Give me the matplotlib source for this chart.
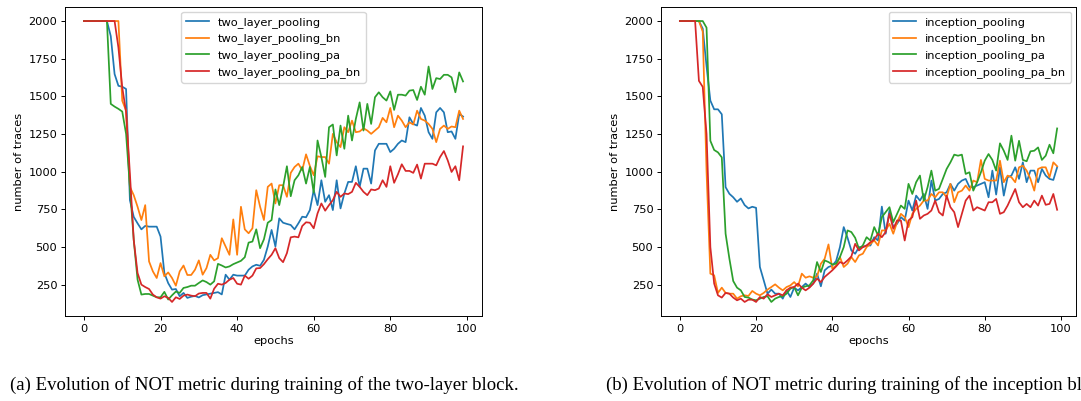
import matplotlib
matplotlib.use("Agg")
import matplotlib.pyplot as plt
import numpy as np

epochs = list(range(100))

two_layer_pooling = [
    2000, 2000, 2000, 2000, 2000, 2000, 2000, 1900, 1648, 1570,
    1564, 1549, 811, 700, 657, 617, 640, 635, 635, 635,
    569, 327, 260, 217, 221, 173, 195, 162, 170, 175,
    165, 180, 185, 190, 195, 200, 185, 316, 283, 316,
    310, 310, 310, 349, 371, 382, 375, 415, 503, 613,
    503, 690, 661, 653, 646, 617, 657, 701, 697, 745,
    877, 778, 943, 800, 844, 745, 943, 756, 855, 932,
    932, 1036, 899, 1020, 1020, 921, 1141, 1185, 1185, 1185,
    1130, 1152, 1185, 1207, 1196, 1361, 1317, 1306, 1423, 1372,
    1262, 1218, 1394, 1423, 1394, 1262, 1267, 1218, 1383, 1366,
]
two_layer_pooling_bn = [
    2000, 2000, 2000, 2000, 2000, 2000, 2000, 2000, 2000, 2000,
    1471, 1405, 899, 844, 767, 679, 778, 404, 338, 294,
    393, 305, 331, 294, 243, 338, 377, 314, 314, 349,
    411, 316, 360, 448, 411, 426, 558, 503, 448, 683,
    448, 767, 617, 591, 624, 877, 767, 679, 899, 921,
    789, 910, 910, 833, 992, 1031, 1053, 1009, 1115, 1038,
    976, 1102, 1097, 1097, 1053, 1251, 1196, 1163, 1295, 1262,
    1339, 1262, 1267, 1288, 1273, 1251, 1273, 1295, 1357, 1328,
    1423, 1295, 1372, 1339, 1295, 1328, 1313, 1405, 1350, 1339,
    1317, 1284, 1196, 1284, 1306, 1284, 1300, 1295, 1405, 1350,
]
two_layer_pooling_pa = [
    2000, 2000, 2000, 2000, 2000, 2000, 2000, 1450, 1432, 1417,
    1399, 1251, 899, 547, 283, 184, 188, 188, 177, 166,
    166, 202, 151, 179, 204, 195, 228, 234, 243, 243,
    261, 278, 267, 250, 272, 388, 377, 364, 371, 386,
    397, 408, 432, 529, 536, 617, 492, 551, 661, 679,
    882, 778, 899, 1036, 837, 943, 976, 1031, 921, 1031,
    860, 1207, 1097, 965, 1295, 1313, 1108, 1306, 1152, 1372,
    1207, 1350, 1460, 1273, 1450, 1317, 1494, 1527, 1494, 1472,
    1533, 1410, 1511, 1511, 1505, 1538, 1542, 1476, 1564, 1511,
    1698, 1549, 1621, 1615, 1643, 1643, 1626, 1527, 1659, 1599,
]
two_layer_pooling_pa_bn = [
    2000, 2000, 2000, 2000, 2000, 2000, 2000, 2000, 2000, 1824,
    1560, 1395, 987, 547, 327, 250, 234, 221, 184, 166,
    157, 173, 162, 135, 166, 155, 177, 184, 177, 173,
    191, 195, 195, 157, 223, 256, 250, 261, 283, 294,
    256, 250, 310, 289, 310, 358, 360, 386, 419, 448,
    492, 426, 399, 459, 564, 569, 564, 639, 664, 661,
    624, 723, 789, 741, 778, 811, 866, 833, 855, 851,
    866, 926, 899, 866, 844, 882, 877, 888, 943, 899,
    1036, 926, 983, 1049, 1005, 1005, 992, 1047, 954, 1053,
    1053, 1053, 1042, 1097, 1137, 1075, 998, 1036, 943, 1168,
]

inception_pooling = [
    2000, 2000, 2000, 2000, 2000, 2000, 1950, 1700, 1472, 1414,
    1414, 1381, 897, 853, 830, 800, 822, 778, 756, 767,
    760, 367, 279, 190, 217, 190, 190, 157, 212, 168,
    230, 212, 234, 257, 234, 257, 323, 239, 345, 367,
    376, 407, 499, 632, 561, 477, 455, 499, 499, 510,
    510, 565, 543, 768, 588, 742, 632, 654, 698, 676,
    808, 742, 841, 808, 852, 753, 941, 808, 819, 852,
    863, 919, 874, 919, 941, 952, 897, 897, 908, 919,
    930, 830, 1007, 848, 1029, 841, 963, 974, 1029, 952,
    1062, 930, 1007, 1007, 930, 1018, 974, 952, 945, 1029,
]
inception_pooling_bn = [
    2000, 2000, 2000, 2000, 2000, 2000, 1930, 1000, 323, 312,
    195, 230, 195, 190, 190, 157, 173, 179, 175, 208,
    190, 179, 195, 217, 234, 252, 230, 212, 234, 245,
    267, 239, 323, 296, 305, 296, 305, 389, 422, 517,
    356, 378, 433, 367, 389, 433, 400, 444, 455, 499,
    521, 543, 510, 610, 610, 654, 588, 665, 720, 698,
    632, 720, 753, 775, 808, 808, 852, 830, 863, 863,
    830, 919, 797, 863, 874, 908, 874, 941, 930, 1078,
    952, 941, 941, 941, 1073, 930, 974, 963, 930, 1029,
    1040, 1007, 952, 874, 1018, 1029, 1029, 963, 1062, 1036,
]
inception_pooling_pa = [
    2000, 2000, 2000, 2000, 2000, 2000, 2000, 1956, 1205, 1144,
    1128, 1095, 588, 422, 274, 230, 212, 168, 164, 151,
    146, 157, 168, 173, 135, 157, 168, 173, 190, 223,
    234, 179, 230, 239, 245, 279, 400, 334, 411, 400,
    384, 389, 433, 499, 610, 599, 561, 488, 510, 565,
    543, 632, 577, 698, 731, 764, 665, 720, 775, 753,
    919, 852, 930, 974, 808, 897, 1007, 874, 886, 952,
    1018, 1062, 1113, 1106, 1113, 985, 996, 874, 930, 996,
    1073, 1117, 1078, 1007, 1188, 1139, 1078, 1239, 1073, 1205,
    1078, 1069, 1135, 1139, 1161, 1078, 1106, 1179, 1122, 1287,
]
inception_pooling_pa_bn = [
    2000, 2000, 2000, 2000, 2000, 1603, 1563, 1250, 499, 257,
    179, 164, 195, 190, 164, 146, 157, 135, 150, 150,
    135, 168, 157, 186, 168, 179, 190, 179, 212, 230,
    234, 257, 230, 212, 230, 257, 290, 267, 301, 323,
    345, 371, 400, 389, 411, 437, 521, 477, 499, 510,
    532, 548, 588, 565, 599, 720, 621, 676, 676, 543,
    676, 698, 808, 687, 709, 720, 742, 808, 731, 709,
    841, 764, 731, 632, 720, 808, 841, 742, 764, 753,
    742, 797, 797, 819, 720, 731, 775, 830, 885, 797,
    764, 786, 764, 808, 775, 841, 780, 786, 852, 747,
]

left_names = ["two_layer_pooling", "two_layer_pooling_bn",
              "two_layer_pooling_pa", "two_layer_pooling_pa_bn"]
left_series = [two_layer_pooling, two_layer_pooling_bn,
               two_layer_pooling_pa, two_layer_pooling_pa_bn]
right_names = ["inception_pooling", "inception_pooling_bn",
               "inception_pooling_pa", "inception_pooling_pa_bn"]
right_series = [inception_pooling, inception_pooling_bn,
                inception_pooling_pa, inception_pooling_pa_bn]

caption_a = "(a) Evolution of NOT metric during training of the two-layer block."
caption_b = "(b) Evolution of NOT metric during training of the inception block."

colors = ["#1f77b4", "#ff7f0e", "#2ca02c", "#d62728"]
fs = 8.2

fig = plt.figure(figsize=(10.81, 4.01), dpi=100)
W, H = 1081, 401

def make_axes(left_px, right_px):
    return fig.add_axes([left_px / W, 1 - 316 / H, (right_px - left_px) / W, (316 - 7) / H])

axL = make_axes(65, 482)
axR = make_axes(661, 1076)

for ax, names, series, loc in [(axL, left_names, left_series, "upper center"),
                               (axR, right_names, right_series, "upper right")]:
    for name, vals, c in zip(names, series, colors):
        ax.plot(epochs, vals, color=c, lw=1.25, label=name)
    ax.set_xticks([0, 20, 40, 60, 80, 100])
    ax.set_yticks([250, 500, 750, 1000, 1250, 1500, 1750, 2000])
    ax.tick_params(labelsize=fs, length=3, width=0.7, pad=2.5)
    for s in ax.spines.values():
        s.set_linewidth(0.7)
    ax.set_xlabel("epochs", fontsize=fs, labelpad=2)
    ax.set_ylabel("number of traces", fontsize=fs, labelpad=3)
    ax.legend(loc=loc, fontsize=fs, frameon=True, handlelength=2.0,
              borderpad=0.4, labelspacing=0.52, handletextpad=0.8,
              borderaxespad=0.45)

cap_font = dict(family="Liberation Serif", fontsize=13.5)
fig.text(10 / W, 1 - 385 / H, caption_a, ha="left", va="center", **cap_font)
fig.text(606 / W, 1 - 385 / H, caption_b, ha="left", va="center", **cap_font)

fig.savefig("out.png", dpi=100)
